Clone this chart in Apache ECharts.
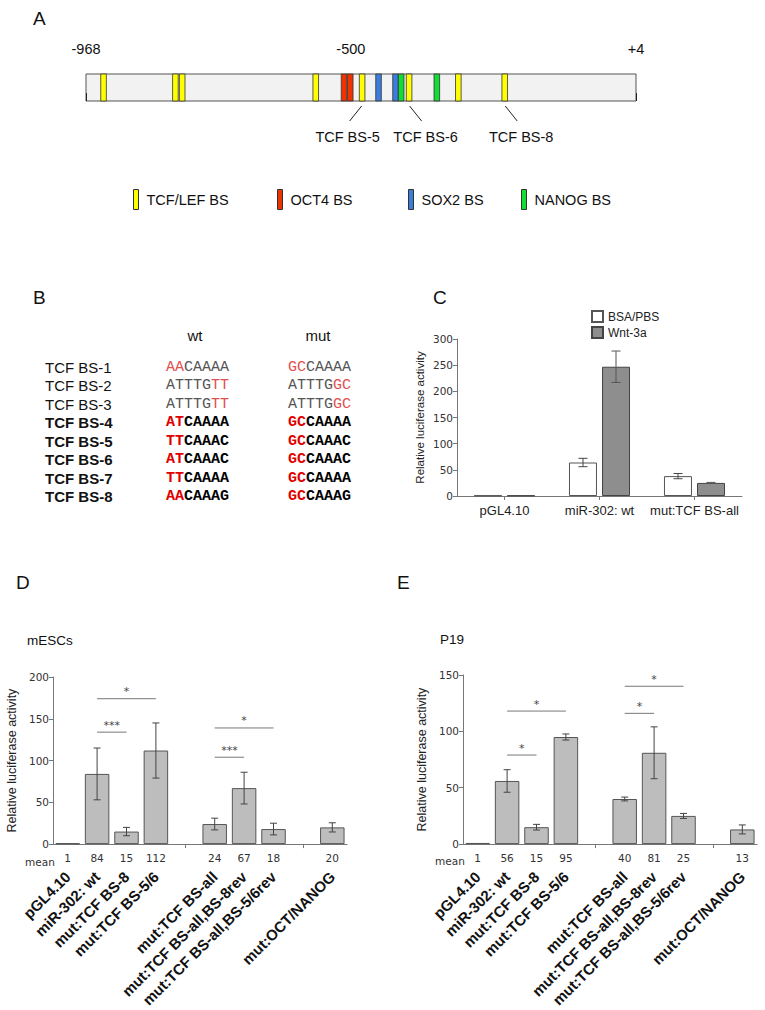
<!DOCTYPE html>
<html><head><meta charset="utf-8">
<script src="https://cdn.jsdelivr.net/npm/echarts@6/dist/echarts.min.js"></script>
<style>html,body{margin:0;padding:0;background:#fff}#c{width:765px;height:1010px}</style>
</head><body><div id="c"></div>
<script>
// ---------- Panel A: promoter map ----------
const promoterRange = [-968, 4];
const promoterTicks = [-968, -500, 4];
const tcfSites = [-937, -810, -798, -562, -480, -397, -310, -228];
const oct4Sites = [-512, -501];
const sox2Sites = [-451, -421];
const nanogSites = [-411, -348];
const pointerSites = [-480, -397, -228];
const pointerLabels = ['TCF BS-5', 'TCF BS-6', 'TCF BS-8'];
const siteTypes = ['TCF/LEF BS', 'OCT4 BS', 'SOX2 BS', 'NANOG BS'];

// ---------- Panel B: binding site sequences ----------
const bsNames = ['TCF BS-1','TCF BS-2','TCF BS-3','TCF BS-4','TCF BS-5','TCF BS-6','TCF BS-7','TCF BS-8'];
const wtSeqs = ['AACAAAA','ATTTGTT','ATTTGTT','ATCAAAA','TTCAAAC','ATCAAAC','TTCAAAA','AACAAAG'];
const mutSeqs = ['GCCAAAA','ATTTGGC','ATTTGGC','GCCAAAA','GCCAAAC','GCCAAAC','GCCAAAA','GCCAAAG'];
const mutatedEnd = ['start','end','end','start','start','start','start','start'];
const boldRows = [false,false,false,true,true,true,true,true];

// ---------- Panel C ----------
const cCategories = ['pGL4.10', 'miR-302: wt', 'mut:TCF BS-all'];
const cSeriesNames = ['BSA/PBS', 'Wnt-3a'];
const cBsaPbs = [1, 64, 38];
const cBsaPbsErr = [0, 8, 5];
const cWnt3a = [1, 247, 25];
const cWnt3aErr = [0, 30, 1];

// ---------- Panels D / E ----------
const deCategories = ['pGL4.10','miR-302: wt','mut:TCF BS-8','mut:TCF BS-5/6','',
  'mut:TCF BS-all','mut:TCF BS-all,BS-8rev','mut:TCF BS-all,BS-5/6rev','','mut:OCT/NANOG'];
const dMeans = [1, 84, 15, 112, null, 24, 67, 18, null, 20];
const dErr   = [0, 31, 5, 33, null, 7, 19, 7, null, 5.5];
const eMeans = [1, 56, 15, 95, null, 40, 81, 25, null, 13];
const eErr   = [0, 10, 2.5, 2.7, null, 1.7, 23, 2.2, null, 4];
// [fromIndex, toIndex, height, label]
const dSig = [[1, 2, 134, '***'], [1, 3, 174, '*'], [5, 6, 104, '***'], [5, 7, 139, '*']];
const eSig = [[1, 2, 79, '*'], [1, 3, 118, '*'], [5, 6, 116, '*'], [5, 7, 140, '*']];

// ---------- styles ----------
const SANS = 'Liberation Sans';
const TICKF = 'DejaVu Sans';
const siteColors = ['#ffff00', '#ee3300', '#3b7ddd', '#11dd33'];

function stripeSeries(name, sites, color) {
  return {
    type: 'custom', name, xAxisIndex: 0, yAxisIndex: 0, clip: false,
    itemStyle: { color },
    data: sites.map(s => [s, 0]),
    renderItem(params, api) {
      const b = api.coord([api.value(0), 0]);
      const t = api.coord([api.value(0), 1]);
      return { type: 'rect', shape: { x: b[0] - 2.8, y: t[1], width: 5.6, height: b[1] - t[1] },
        style: { fill: color, stroke: '#333', lineWidth: 0.8 } };
    }
  };
}
const pointerDir = [-1, 1, 1];
const pointerSeries = {
  type: 'custom', xAxisIndex: 0, yAxisIndex: 0, clip: false, silent: true,
  data: pointerSites.map(s => [s, 0]),
  renderItem(params, api) {
    const i = params.dataIndex, d = pointerDir[i];
    const b = api.coord([api.value(0), 0]);
    const x1 = b[0] + d * 0.5, y1 = b[1] + 5, x2 = b[0] + d * 12.5, y2 = b[1] + 20;
    return { type: 'group', children: [
      { type: 'line', shape: { x1, y1, x2, y2 }, style: { stroke: '#222', lineWidth: 1 } },
      { type: 'text', style: { text: pointerLabels[i], x: x2 + d * 4 - (d < 0 ? -2 : 0), y: b[1] + 36,
        align: 'center', verticalAlign: 'middle', font: '14.5px ' + SANS, fill: '#111' } }
    ] };
  }
};

function errSeries(xi, yi, means, errs, offset, color, cap) {
  const data = [];
  means.forEach((m, i) => { if (m != null && errs[i] > 0) data.push([i, m, errs[i]]); });
  return {
    type: 'custom', xAxisIndex: xi, yAxisIndex: yi, silent: true, clip: false, z: 5, data,
    renderItem(params, api) {
      const i = api.value(0), m = api.value(1), e = api.value(2);
      const t = api.coord([i, m + e]), b = api.coord([i, m - e]);
      const x = t[0] + offset;
      const st = { stroke: color, lineWidth: 1 };
      return { type: 'group', children: [
        { type: 'line', shape: { x1: x, y1: t[1], x2: x, y2: b[1] }, style: st },
        { type: 'line', shape: { x1: x - cap, y1: t[1], x2: x + cap, y2: t[1] }, style: st },
        { type: 'line', shape: { x1: x - cap, y1: b[1], x2: x + cap, y2: b[1] }, style: st }
      ] };
    }
  };
}
function sigSeries(xi, yi, sigs) {
  return {
    type: 'custom', xAxisIndex: xi, yAxisIndex: yi, silent: true, clip: false, z: 6,
    data: sigs.map(s => [s[0], s[2], s[1]]),
    renderItem(params, api) {
      const a = api.coord([api.value(0), api.value(1)]);
      const b = api.coord([api.value(2), api.value(1)]);
      return { type: 'group', children: [
        { type: 'line', shape: { x1: a[0], y1: a[1], x2: b[0], y2: a[1] }, style: { stroke: '#777', lineWidth: 1 } },
        { type: 'text', style: { text: sigs[params.dataIndex][3], x: (a[0] + b[0]) / 2, y: a[1] - 7,
          align: 'center', verticalAlign: 'middle', font: '11px ' + TICKF, fill: '#444' } }
      ] };
    }
  };
}

function valueY(grid, max, name, nameGap, nameSize) {
  return {
    type: 'value', gridIndex: grid, min: 0, max, interval: 50,
    name, nameLocation: 'middle', nameGap, nameRotate: 90,
    nameTextStyle: { fontFamily: SANS, fontSize: nameSize, color: '#222' },
    axisLine: { show: true, lineStyle: { color: '#777' } },
    axisTick: { show: true, length: 4, lineStyle: { color: '#777' } },
    axisLabel: { fontFamily: TICKF, fontSize: 10.5, color: '#333', margin: 4 },
    splitLine: { show: false }
  };
}
function catX(grid) {
  return {
    type: 'category', gridIndex: grid, data: deCategories, position: 'bottom',
    axisLine: { lineStyle: { color: '#777' } },
    axisTick: { show: true, alignWithLabel: true, length: 4, interval: (i) => deCategories[i] === '', lineStyle: { color: '#777' } },
    axisLabel: { interval: 0, rotate: 45, margin: 30, fontFamily: SANS, fontWeight: 'bold', fontSize: 15, color: '#111' }
  };
}
function meanX(grid, means) {
  return {
    type: 'category', gridIndex: grid, position: 'bottom',
    data: means.map(m => m == null ? '' : String(m)),
    axisLine: { show: false }, axisTick: { show: false },
    axisLabel: { interval: 0, margin: 8, fontFamily: TICKF, fontSize: 10.5, color: '#333' }
  };
}
const barStyleDE = { color: '#bdbdbd', borderColor: '#555', borderWidth: 1 };

// Panel B text elements
const seqFont = (bold) => (bold ? 'bold ' : '') + '15px Liberation Mono';
function seqRich(seq, where, bold) {
  const red = where === 'start' ? seq.slice(0, 2) : seq.slice(-2);
  const rest = where === 'start' ? seq.slice(2) : seq.slice(0, -2);
  return where === 'start' ? '{r|' + red + '}{k|' + rest + '}' : '{k|' + rest + '}{r|' + red + '}';
}
function richStyles(bold) {
  return {
    r: { fill: bold ? '#e00000' : '#e05050', color: bold ? '#e00000' : '#e05050', fontFamily: 'Liberation Mono', fontSize: 15, fontWeight: bold ? 'bold' : 'normal' },
    k: { fill: bold ? '#000' : '#555', color: bold ? '#000' : '#555', fontFamily: 'Liberation Mono', fontSize: 15, fontWeight: bold ? 'bold' : 'normal' }
  };
}
const gElems = [];
function txt(x, y, text, font, align, fill) {
  gElems.push({ type: 'text', x, y, style: { text, font, fill: fill || '#111', align: align || 'left', verticalAlign: 'middle' } });
}
txt(33, 18, 'A', '19px ' + SANS);
txt(33, 297, 'B', '19px ' + SANS);
txt(433, 297, 'C', '19px ' + SANS);
txt(16, 582, 'D', '19px ' + SANS);
txt(397, 582, 'E', '19px ' + SANS);
txt(27, 640, 'mESCs', '13.5px ' + SANS);
txt(440, 639, 'P19', '13.5px ' + SANS);
txt(40, 862, 'mean', '10.5px ' + TICKF, 'center', '#333');
txt(450, 861, 'mean', '10.5px ' + TICKF, 'center', '#333');
txt(195, 335, 'wt', '15px ' + SANS, 'center');
txt(318, 335, 'mut', '15px ' + SANS, 'center');
bsNames.forEach((n, i) => {
  const y = 367 + i * 18.5;
  const b = boldRows[i];
  txt(45, y, n, (b ? 'bold ' : '') + '15px ' + SANS, 'left', '#111');
  gElems.push({ type: 'text', x: 166, y, style: { text: seqRich(wtSeqs[i], mutatedEnd[i], b), rich: richStyles(b), font: seqFont(b), verticalAlign: 'middle' } });
  gElems.push({ type: 'text', x: 288, y, style: { text: seqRich(mutSeqs[i], mutatedEnd[i], b), rich: richStyles(b), font: seqFont(b), verticalAlign: 'middle' } });
});

const legendA = siteTypes.map((n, i) => ({
  data: [n], left: [128, 272, 403, 516][i], top: 184, icon: 'rect', itemWidth: 5, itemHeight: 20, itemGap: 0,
  itemStyle: { borderColor: '#333', borderWidth: 1 },
  textStyle: { fontFamily: SANS, fontSize: 14.5, color: '#111', padding: [0, 0, 0, 3] }, selectedMode: false
}));

const option = {
  animation: false,
  backgroundColor: '#fff',
  textStyle: { fontFamily: SANS },
  grid: [
    { left: 86, top: 74, width: 550, height: 27, show: true, backgroundColor: '#f2f2f2', borderColor: '#555', borderWidth: 1, containLabel: false },
    { left: 457, top: 339, width: 285, height: 157 },
    { left: 53, top: 677, width: 294, height: 171.5 },
    { left: 463, top: 675, width: 294, height: 172 }
  ],
  legend: legendA.concat([{
    data: cSeriesNames, orient: 'vertical', left: 586, top: 305, icon: 'rect', itemWidth: 11, itemHeight: 11, itemGap: 3,
    textStyle: { fontFamily: SANS, fontSize: 12, color: '#222' }, selectedMode: false
  }]),
  xAxis: [
    { type: 'value', gridIndex: 0, min: promoterRange[0], max: promoterRange[1], position: 'top', offset: 3,
      axisLine: { show: false }, splitLine: { show: false },
      axisTick: { show: true, customValues: promoterTicks, length: 8, lineStyle: { color: '#222' } },
      axisLabel: { customValues: promoterTicks, margin: 15, fontFamily: SANS, fontSize: 14.5, color: '#111', formatter: v => v > 0 ? '+' + v : String(v) } },
    { type: 'category', gridIndex: 1, data: cCategories,
      axisLine: { lineStyle: { color: '#777' } },
      axisTick: { show: true, alignWithLabel: true, length: 4, lineStyle: { color: '#777' } },
      axisLabel: { interval: 0, fontFamily: SANS, fontSize: 13, color: '#222', margin: 8 } },
    catX(2), meanX(2, dMeans),
    catX(3), meanX(3, eMeans)
  ],
  yAxis: [
    { type: 'value', gridIndex: 0, min: 0, max: 1, show: false },
    valueY(1, 300, 'Relative luciferase activity', 31, 11.5),
    valueY(2, 200, 'Relative luciferase activity', 35, 12.5),
    valueY(3, 150, 'Relative luciferase activity', 35, 12.5)
  ],
  series: [
    stripeSeries(siteTypes[0], tcfSites, siteColors[0]),
    stripeSeries(siteTypes[1], oct4Sites, siteColors[1]),
    stripeSeries(siteTypes[2], sox2Sites, siteColors[2]),
    stripeSeries(siteTypes[3], nanogSites, siteColors[3]),
    pointerSeries,
    { type: 'bar', name: cSeriesNames[0], xAxisIndex: 1, yAxisIndex: 1, data: cBsaPbs, barWidth: 28, barGap: '18%',
      itemStyle: { color: '#ffffff', borderColor: '#555', borderWidth: 1 } },
    { type: 'bar', name: cSeriesNames[1], xAxisIndex: 1, yAxisIndex: 1, data: cWnt3a, barWidth: 28, barGap: '18%',
      itemStyle: { color: '#8e8e8e', borderColor: '#444', borderWidth: 1 } },
    errSeries(1, 1, cBsaPbs, cBsaPbsErr, -16.5, '#444', 4.5),
    errSeries(1, 1, cWnt3a, cWnt3aErr, 16.5, '#555', 4.5),
    { type: 'bar', xAxisIndex: 2, yAxisIndex: 2, data: dMeans.map(v => v == null ? '-' : v), barWidth: 24.5, itemStyle: barStyleDE },
    errSeries(2, 2, dMeans, dErr, 0, '#444', 3.5),
    sigSeries(2, 2, dSig),
    { type: 'bar', xAxisIndex: 4, yAxisIndex: 3, data: eMeans.map(v => v == null ? '-' : v), barWidth: 24.5, itemStyle: barStyleDE },
    errSeries(4, 3, eMeans, eErr, 0, '#444', 3.5),
    sigSeries(4, 3, eSig)
  ],
  graphic: { elements: gElems }
};
const chart = echarts.init(document.getElementById('c'), null, { renderer: 'svg', width: 765, height: 1010 });
chart.setOption(option);
</script></body></html>
